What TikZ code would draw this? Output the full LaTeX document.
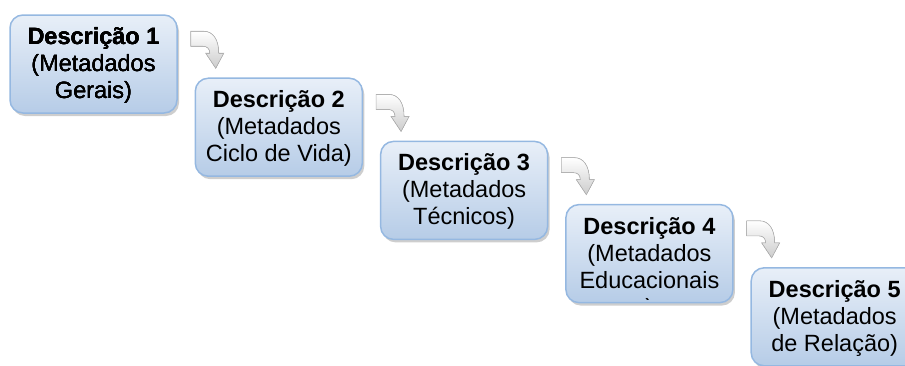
\documentclass[tikz,border=0pt]{standalone}
\usepackage{fontspec}
\setmainfont{Liberation Sans}
\usepackage{tikz}
\usetikzlibrary{positioning,shadows,calc}
\definecolor{boxborder}{RGB}{149,184,225}
\definecolor{boxtop}{RGB}{232,239,248}
\definecolor{boxbottom}{RGB}{182,204,231}
\tikzset{
	descbox/.style={draw=boxborder, line width=1.5pt, rounded corners=13pt, top color=boxtop, bottom color=boxbottom, minimum width=167pt, minimum height=98pt, inner sep=0pt, drop shadow={shadow xshift=2pt, shadow yshift=-3pt, fill=gray!70, opacity=.55}},
	desctext/.style={align=center, inner sep=0pt, text=black, font=\fontsize{23.5}{27}\selectfont},
	bentarrow/.style={draw=gray!60, line width=.6pt, top color=white, bottom color=gray!40}
}
\newcommand{\bentArrow}[1]{
	\filldraw[bentarrow, shift={(#1)}] (13,17) -- (26,17) .. controls (35,17) and (41,25) .. (41,39) -- (46,39) -- (38,54) -- (28,39) -- (32,39) .. controls (32,34) and (29,32) .. (25,32) -- (13,32) -- cycle;
}

\begin{document}
\begin{tikzpicture}[x=1pt, y=-1pt]
	\clip (0,0) rectangle (905,365);
	\foreach \i in {1,...,5}
		\node[descbox] (d\i) at ({93.5+185.3*(\i-1)},{64+63.2*(\i-1)}) {};
	\foreach \i in {1,...,4}
		\bentArrow{d\i.north east}
	\node[desctext, below=13pt of d1.north] (t1) {\textbf{Descrição 1}\\(Metadados\\Gerais)};
	\node[desctext, below=13pt of d2.north] (t2) {\textbf{Descrição 2}\\(Metadados\\Ciclo de Vida)};
	\node[desctext, below=13pt of d3.north] (t3) {\textbf{Descrição 3}\\(Metadados\\Técnicos)};
	\begin{scope}
		\clip[rounded corners=11pt] ($(d4.south west)+(2,-4)$) rectangle ($(d4.north east)+(-2,2)$);
		\node[desctext, below=13pt of d4.north] (t4) {\textbf{Descrição 4}\\(Metadados\\Educacionais\\)};
	\end{scope}
	\node[desctext, below=13pt of d5.north] (t5) {\textbf{Descrição 5}\\(Metadados\\de Relação)};
\end{tikzpicture}
\end{document}
